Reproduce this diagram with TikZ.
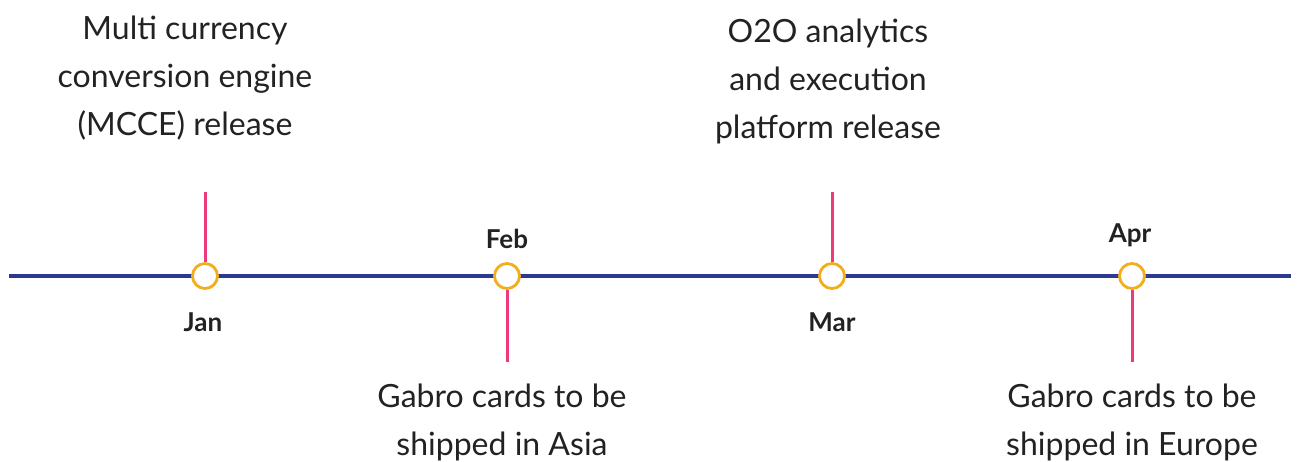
\documentclass[tikz,border=0pt]{standalone}
\usepackage{fontspec}
\setmainfont{Lato}
\definecolor{navy}{HTML}{2B3990}
\definecolor{pinkc}{HTML}{EE3A7C}
\definecolor{orangec}{HTML}{F2AE1C}
\definecolor{txt}{HTML}{222222}
\begin{document}
\begin{tikzpicture}[x=1pt,y=-1pt,
  axisline/.style={draw=navy,line width=4.5pt},
  stem/.style={draw=pinkc,line width=3pt},
  dot/.style={circle,draw=orangec,fill=white,line width=2.8pt,minimum size=25pt,inner sep=0pt},
  month/.style={font=\fontsize{26}{30}\selectfont\bfseries,text=txt,anchor=base,inner sep=0pt},
  desc/.style={font=\fontsize{32}{48}\selectfont,text=txt,align=center,anchor=base,inner sep=0pt}
]
\useasboundingbox (0,0) rectangle (1298,462);
\coordinate (L) at (9,276);
\coordinate (R) at (1291,276);
\draw[axisline] (L) -- (R);
\coordinate (jt) at (205,192);
\coordinate (ft) at (507,362);
\coordinate (mt) at (832,192);
\coordinate (at) at (1132,362);
\node[dot] (jan) at (205,276) {};
\node[dot] (feb) at (507,276) {};
\node[dot] (mar) at (832,276) {};
\node[dot] (apr) at (1132,276) {};
\draw[stem] (jt) -- (jan.north);
\draw[stem] (feb.south) -- (ft);
\draw[stem] (mt) -- (mar.north);
\draw[stem] (apr.south) -- (at);
\node[month] (janl) at (203,331) {Jan};
\node[month] (febl) at (507,249) {Feb};
\node[month] (marl) at (832,331) {Mar};
\node[month] (aprl) at (1130,243) {Apr};
\node[desc] (d1) at (185,136) {Multi currency\\conversion engine\\(MCCE) release};
\node[desc] (d2) at (828,139) {O2O analytics\\and execution\\platform release};
\node[desc] (d3) at (502,455) {Gabro cards to be\\shipped in Asia};
\node[desc] (d4) at (1132,455) {Gabro cards to be\\shipped in Europe};
\end{tikzpicture}
\end{document}
